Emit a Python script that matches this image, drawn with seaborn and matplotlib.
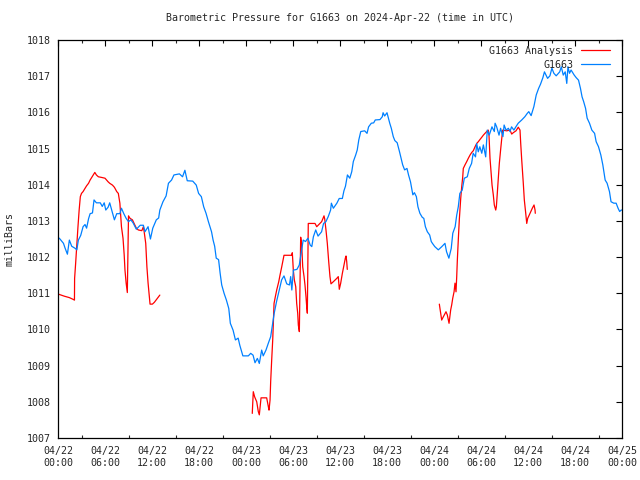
import pandas as pd
import numpy as np
import matplotlib
matplotlib.use("Agg")
import matplotlib.pyplot as plt
import matplotlib.dates as mdates
from matplotlib.lines import Line2D
import seaborn as sns

# hours after 2024-04-22 00:00 UTC, pressure in mb
station_hours = [0.0, 0.25, 0.7, 0.9, 1.2, 1.45, 1.75, 2.2, 2.4, 2.6, 2.9, 3.2, 3.45, 3.65, 3.9, 4.1, 4.4, 4.6, 4.9, 5.4,
                 5.65, 5.9, 6.1, 6.4, 6.6, 6.85, 7.2, 7.5, 7.9, 8.1, 8.4, 8.7, 9.0, 9.3, 9.6, 10.0, 10.5, 10.9, 11.1, 11.5,
                 11.8, 12.1, 12.55, 12.85, 13.0, 13.4, 13.8, 14.1, 14.5, 14.8, 15.5, 15.9, 16.2, 16.5, 17.2, 17.65, 17.95, 18.3, 18.6, 18.9,
                 19.2, 19.6, 19.8, 20.0, 20.2, 20.5, 20.7, 20.9, 21.2, 21.5, 21.8, 22.0, 22.35, 22.65, 23.0, 23.2, 23.6, 24.3, 24.6, 24.9,
                 25.15, 25.45, 25.7, 26.0, 26.2, 26.55, 26.85, 27.15, 27.4, 27.6, 27.9, 28.25, 28.55, 28.85, 29.2, 29.55, 29.7, 29.85, 30.05, 30.5,
                 30.8, 31.1, 31.3, 31.6, 31.9, 32.2, 32.4, 32.6, 32.9, 33.2, 33.65, 33.9, 34.2, 34.5, 34.8, 34.9, 35.15, 35.6, 35.9, 36.3,
                 36.5, 36.7, 36.95, 37.25, 37.5, 37.7, 38.0, 38.2, 38.4, 38.65, 39.15, 39.45, 39.65, 40.0, 40.3, 40.5, 41.1, 41.4, 41.5, 41.7,
                 42.0, 42.35, 42.55, 42.8, 43.0, 43.3, 43.6, 43.8, 44.0, 44.25, 44.55, 44.75, 45.0, 45.3, 45.5, 45.75, 45.95, 46.2, 46.5, 46.7,
                 46.9, 47.15, 47.45, 47.65, 47.8, 48.1, 48.55, 49.0, 49.4, 49.6, 49.9, 50.2, 50.4, 50.7, 50.9, 51.1, 51.3, 51.6, 51.87, 52.25,
                 52.5, 52.8, 53.0, 53.3, 53.45, 53.65, 53.85, 54.1, 54.3, 54.5, 54.6, 54.8, 55.05, 55.4, 55.7, 55.8, 56.0, 56.3, 56.5, 56.8,
                 56.95, 57.2, 57.5, 57.7, 57.9, 58.2, 58.45, 58.75, 59.2, 59.6, 59.9, 60.1, 60.4, 60.75, 61.05, 61.35, 61.6, 61.9, 62.1, 62.3,
                 62.5, 62.8, 63.05, 63.3, 63.6, 64.05, 64.25, 64.5, 64.75, 64.95, 65.1, 65.3, 65.5, 65.9, 66.15, 66.45, 66.7, 66.9, 67.1, 67.35,
                 67.55, 67.85, 68.15, 68.5, 68.7, 69.0, 69.3, 69.55, 69.85, 70.1, 70.4, 70.6, 70.95, 71.25, 71.5, 71.7, 71.9, 72.0]
station_mb = [1012.55, 1012.5, 1012.38, 1012.25, 1012.08, 1012.47, 1012.3, 1012.24, 1012.2, 1012.47, 1012.6, 1012.84, 1012.9, 1012.8, 1013.06, 1013.2, 1013.22, 1013.58, 1013.5, 1013.5,
              1013.4, 1013.5, 1013.3, 1013.38, 1013.5, 1013.3, 1013.03, 1013.2, 1013.2, 1013.35, 1013.2, 1013.07, 1012.98, 1013.03, 1012.94, 1012.77, 1012.88, 1012.88, 1012.7, 1012.84,
              1012.5, 1012.8, 1013.03, 1013.08, 1013.3, 1013.53, 1013.69, 1014.04, 1014.13, 1014.27, 1014.3, 1014.22, 1014.4, 1014.11, 1014.1, 1013.99, 1013.76, 1013.67, 1013.39, 1013.21,
              1012.98, 1012.7, 1012.47, 1012.3, 1011.97, 1011.93, 1011.55, 1011.23, 1011.0, 1010.81, 1010.58, 1010.17, 1009.98, 1009.71, 1009.76, 1009.57, 1009.27, 1009.27, 1009.34, 1009.29,
              1009.08, 1009.2, 1009.06, 1009.43, 1009.27, 1009.43, 1009.62, 1009.8, 1010.17, 1010.45, 1010.77, 1011.09, 1011.37, 1011.48, 1011.26, 1011.23, 1011.46, 1011.09, 1011.64, 1011.66,
              1011.78, 1012.2, 1012.47, 1012.43, 1012.52, 1012.33, 1012.29, 1012.56, 1012.75, 1012.58, 1012.7, 1012.93, 1012.98, 1013.12, 1013.3, 1013.49, 1013.35, 1013.49, 1013.62, 1013.62,
              1013.83, 1013.96, 1014.27, 1014.18, 1014.36, 1014.64, 1014.82, 1014.96, 1015.24, 1015.47, 1015.49, 1015.42, 1015.6, 1015.7, 1015.71, 1015.79, 1015.8, 1015.88, 1015.99, 1015.9,
              1015.99, 1015.7, 1015.56, 1015.33, 1015.22, 1015.16, 1014.91, 1014.73, 1014.55, 1014.41, 1014.45, 1014.27, 1014.08, 1013.72, 1013.78, 1013.67, 1013.39, 1013.21, 1013.1, 1013.07,
              1012.84, 1012.7, 1012.61, 1012.43, 1012.38, 1012.29, 1012.2, 1012.29, 1012.38, 1012.15, 1011.97, 1012.24, 1012.66, 1012.84, 1013.16, 1013.39, 1013.76, 1013.85, 1014.18, 1014.22,
              1014.45, 1014.59, 1014.87, 1014.77, 1015.14, 1014.91, 1015.05, 1014.87, 1015.1, 1014.87, 1014.77, 1015.51, 1015.37, 1015.6, 1015.47, 1015.7, 1015.6, 1015.37, 1015.56, 1015.33,
              1015.65, 1015.51, 1015.56, 1015.47, 1015.6, 1015.51, 1015.6, 1015.7, 1015.79, 1015.88, 1015.97, 1016.02, 1015.91, 1016.16, 1016.48, 1016.66, 1016.78, 1016.96, 1017.12, 1017.03,
              1016.94, 1017.01, 1017.22, 1017.08, 1017.01, 1017.12, 1017.26, 1017.03, 1017.12, 1016.8, 1017.26, 1017.08, 1017.17, 1017.03, 1016.96, 1016.89, 1016.66, 1016.43, 1016.3, 1016.11,
              1015.84, 1015.7, 1015.51, 1015.42, 1015.19, 1015.05, 1014.82, 1014.55, 1014.13, 1014.04, 1013.81, 1013.53, 1013.49, 1013.49, 1013.35, 1013.26, 1013.3, 1013.3]

# analysis series comes in three separate pieces (gaps between them)
analysis_hours_1 = [0.0, 0.8, 1.45, 1.95, 2.1, 2.12, 2.25, 2.4, 2.55, 2.7, 2.85, 3.0, 3.2, 3.45, 3.65, 3.9, 4.1, 4.3, 4.5, 4.7,
                    4.9, 5.15, 5.6, 6.0, 6.2, 6.4, 6.6, 6.95, 7.2, 7.5, 7.7, 7.9, 8.1, 8.3, 8.45, 8.55, 8.7, 8.85, 9.0, 9.2,
                    9.5, 9.8, 10.0, 10.25, 10.7, 10.9, 11.0, 11.2, 11.35, 11.5, 11.75, 12.05, 12.3, 13.0]
analysis_mb_1 = [1010.98, 1010.92, 1010.88, 1010.83, 1010.81, 1011.41, 1011.82, 1012.33, 1012.84, 1013.3, 1013.67, 1013.76, 1013.81, 1013.9, 1013.97, 1014.04, 1014.13, 1014.2, 1014.27, 1014.34,
                 1014.27, 1014.22, 1014.2, 1014.18, 1014.13, 1014.08, 1014.04, 1013.99, 1013.93, 1013.81, 1013.76, 1013.49, 1012.84, 1012.52, 1012.06, 1011.64, 1011.28, 1011.02, 1013.14, 1013.07,
                 1013.03, 1012.89, 1012.8, 1012.75, 1012.73, 1012.84, 1012.7, 1012.38, 1011.73, 1011.28, 1010.7, 1010.7, 1010.75, 1010.95]
analysis_hours_2 = [24.8, 24.93, 25.1, 25.37, 25.57, 25.7, 25.92, 26.64, 26.85, 26.94, 27.07, 27.15, 27.28, 27.41, 27.49, 27.58, 27.74, 27.92, 28.18, 28.34,
                    28.56, 28.85, 29.84, 29.91, 29.96, 30.04, 30.17, 30.35, 30.47, 30.6, 30.68, 30.81, 30.98, 31.11, 31.24, 31.41, 31.53, 31.66, 31.75, 31.83,
                    31.95, 32.81, 33.03, 33.66, 33.96, 34.05, 34.21, 34.38, 34.56, 34.72, 34.85, 35.15, 35.58, 35.78, 35.91, 36.09, 36.3, 36.51, 36.68, 36.77,
                    36.86, 36.93]
analysis_mb_2 = [1007.68, 1008.28, 1008.14, 1008.0, 1007.73, 1007.64, 1008.11, 1008.11, 1007.87, 1007.77, 1008.05, 1008.56, 1009.16, 1009.71, 1010.17, 1010.72, 1010.9, 1011.09, 1011.32, 1011.5,
                 1011.73, 1012.05, 1012.05, 1012.12, 1011.95, 1011.64, 1011.37, 1011.18, 1010.72, 1010.45, 1010.12, 1009.94, 1012.55, 1012.33, 1011.73, 1011.46, 1011.23, 1010.9, 1010.63, 1010.45,
                 1012.93, 1012.93, 1012.84, 1012.98, 1013.14, 1013.05, 1012.75, 1012.38, 1011.87, 1011.46, 1011.26, 1011.32, 1011.41, 1011.46, 1011.11, 1011.28, 1011.55, 1011.78, 1011.97, 1012.03,
                 1011.87, 1011.66]
analysis_hours_3 = [48.68, 48.98, 49.19, 49.53, 49.7, 49.92, 50.13, 50.26, 50.39, 50.56, 50.68, 50.81, 50.9, 50.98, 51.1, 51.23, 51.41, 51.54, 51.67, 51.74,
                    51.96, 52.18, 52.38, 52.6, 52.81, 53.02, 53.24, 53.45, 53.66, 53.87, 54.09, 54.3, 54.51, 54.73, 54.93, 55.02, 55.15, 55.28, 55.41, 55.57,
                    55.7, 55.88, 55.96, 56.08, 56.21, 56.34, 56.52, 56.65, 56.77, 57.28, 57.7, 57.92, 58.13, 58.47, 58.76, 58.98, 59.07, 59.2, 59.4, 59.53,
                    59.71, 59.84, 59.96, 60.26, 60.55, 60.77, 60.9, 60.93]
analysis_mb_3 = [1010.7, 1010.26, 1010.35, 1010.49, 1010.4, 1010.17, 1010.54, 1010.68, 1010.86, 1011.04, 1011.28, 1011.04, 1011.46, 1011.92, 1012.47, 1013.03, 1013.62, 1013.95, 1014.22, 1014.45,
                 1014.55, 1014.64, 1014.73, 1014.82, 1014.89, 1014.94, 1015.05, 1015.14, 1015.19, 1015.25, 1015.31, 1015.37, 1015.42, 1015.47, 1015.51, 1015.37, 1014.73, 1014.36, 1013.99, 1013.72,
                 1013.44, 1013.3, 1013.39, 1013.76, 1014.18, 1014.59, 1015.0, 1015.28, 1015.51, 1015.49, 1015.51, 1015.4, 1015.44, 1015.49, 1015.59, 1015.51, 1015.14, 1014.68, 1014.04, 1013.58,
                 1013.21, 1012.93, 1013.07, 1013.21, 1013.35, 1013.44, 1013.3, 1013.21]

start = pd.Timestamp("2024-04-22 00:00")

station = pd.DataFrame({"time": start + pd.to_timedelta(station_hours, unit="h"), "mb": station_mb})
analysis = pd.concat([
    pd.DataFrame({"time": start + pd.to_timedelta(h, unit="h"), "mb": v, "piece": i})
    for i, (h, v) in enumerate([(analysis_hours_1, analysis_mb_1),
                                (analysis_hours_2, analysis_mb_2),
                                (analysis_hours_3, analysis_mb_3)])
], ignore_index=True)

sns.set_style("white")
plt.rcParams["font.family"] = ["DejaVu Sans Mono"]

red = "#ff0000"
blue = "#0080ff"

fig = plt.figure(figsize=(6.4, 4.8), dpi=100)
ax = fig.add_axes([58 / 640, 1 - 438 / 480, 564 / 640, 398 / 480])

sns.lineplot(data=analysis, x="time", y="mb", units="piece", estimator=None, sort=False,
             color=red, linewidth=0.9, ax=ax, legend=False)
sns.lineplot(data=station, x="time", y="mb", estimator=None, sort=False,
             color=blue, linewidth=0.9, ax=ax, legend=False)

ax.set_xlim(start, start + pd.Timedelta(hours=72))
ax.set_ylim(1007, 1018)
ax.set_yticks(np.arange(1007, 1019, 1))
ax.xaxis.set_major_locator(mdates.HourLocator(byhour=[0, 6, 12, 18]))
ax.xaxis.set_minor_locator(mdates.HourLocator(byhour=[3, 9, 15, 21]))
ax.xaxis.set_major_formatter(mdates.DateFormatter("%m/%d\n%H:%M"))

ax.tick_params(axis="both", which="major", direction="in", length=4.5, width=0.8,
               top=True, right=True, labelsize=7.2, color="black")
ax.tick_params(axis="x", which="minor", direction="in", length=2.3, width=0.8, top=True, bottom=True)
ax.tick_params(axis="x", which="major", pad=6)
ax.tick_params(axis="y", which="major", pad=5)
for s in ax.spines.values():
    s.set_color("black")
    s.set_linewidth(0.9)

ax.set_xlabel("")
ax.set_ylabel("milliBars", fontsize=7.2, labelpad=9)
# title centred over the plot area, like gnuplot does
ax.set_title("Barometric Pressure for G1663 on 2024-Apr-22 (time in UTC)", fontsize=7.2, pad=14)

handles = [Line2D([], [], color=red, linewidth=0.9), Line2D([], [], color=blue, linewidth=0.9)]
ax.legend(handles, ["G1663 Analysis", "G1663"], loc="upper right", frameon=False, fontsize=7.2,
          markerfirst=False, handlelength=2.9, handletextpad=0.8, labelspacing=0.4,
          borderaxespad=0.2, bbox_to_anchor=(0.99, 1.0))

fig.savefig("out.png", dpi=100)
